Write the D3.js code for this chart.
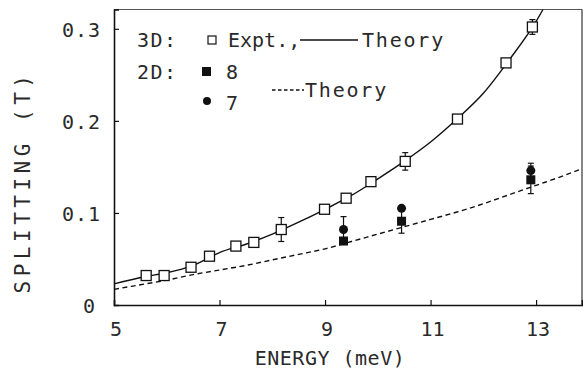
<!DOCTYPE html>
<html>
<head>
<meta charset="utf-8">
<script src="https://cdn.jsdelivr.net/npm/d3@7"></script>
<style>
  body { margin: 0; background: #fff; }
  svg { display: block; }
  text { font-family: "DejaVu Sans Mono", monospace; fill: #2a2a2a; }
</style>
</head>
<body>
<svg id="chart" width="583" height="373"></svg>
<script>
// ===== data =====
const energy3D = [5.61, 5.95, 6.46, 6.81, 7.31, 7.65, 8.17, 8.99, 9.40, 9.87, 10.52, 11.51, 12.43, 12.93];
const split3D  = [0.032, 0.032, 0.041, 0.053, 0.064, 0.068, 0.082, 0.104, 0.116, 0.134, 0.156, 0.202, 0.263, 0.302];
const err3D    = [0, 0, 0, 0, 0, 0, 0.013, 0, 0, 0, 0.0095, 0, 0, 0.008];

const energy2D = [9.35, 10.45, 12.90];
const split8   = [0.0695, 0.091, 0.136];
const err8     = [0, 0.013, 0.015];
const split7   = [0.082, 0.105, 0.146];
const err7     = [0.014, 0, 0.008];

// theory curves (sampled from the drawn lines)
const theory3DE = [5.0, 5.6, 6.0, 6.5, 7.0, 7.5, 8.0, 8.5, 9.0, 9.5, 10.0, 10.5, 11.0, 11.5, 12.0, 12.5, 13.0, 13.13];
const theory3DS = [0.023, 0.031, 0.035, 0.043, 0.057, 0.066, 0.077, 0.090, 0.104, 0.119, 0.137, 0.156, 0.177, 0.202, 0.230, 0.267, 0.308, 0.321];
const theory2DE = [5.0, 5.5, 6.0, 6.5, 7.0, 7.5, 8.0, 8.5, 9.0, 9.5, 10.0, 10.5, 11.0, 11.5, 12.0, 12.5, 13.0, 13.5, 13.87];
const theory2DS = [0.017, 0.022, 0.027, 0.033, 0.038, 0.043, 0.049, 0.055, 0.061, 0.069, 0.077, 0.085, 0.093, 0.101, 0.110, 0.120, 0.130, 0.140, 0.148];

const xTicks = [5, 7, 9, 11, 13];
const yTicks = [0, 0.1, 0.2, 0.3];

// ===== layout =====
const svg = d3.select('#chart');
const plot = {left: 114, right: 582, top: 9.5, bottom: 305};

const x = d3.scaleLinear().domain([5, 13.87]).range([plot.left, plot.right]);
const y = d3.scaleLinear().domain([0, 0.321]).range([plot.bottom, plot.top]);

// frame
svg.append('line')
  .attr('x1', plot.left).attr('x2', plot.right)
  .attr('y1', plot.top).attr('y2', plot.top)
  .attr('stroke', '#555').attr('stroke-width', 1.2);
svg.append('line')
  .attr('x1', plot.right).attr('x2', plot.right)
  .attr('y1', plot.top).attr('y2', plot.bottom)
  .attr('stroke', '#333').attr('stroke-width', 1.2);

// axes, ticks pointing inward
const xAxis = svg.append('g')
  .attr('transform', `translate(0,${plot.bottom})`)
  .call(d3.axisTop(x).tickValues(xTicks.filter(d => d > 5)).tickSize(5).tickFormat(''));
const yAxis = svg.append('g')
  .attr('transform', `translate(${plot.left},0)`)
  .call(d3.axisRight(y).tickValues(yTicks.filter(d => d > 0)).tickSize(5).tickFormat(''));
[xAxis, yAxis].forEach(g => {
  g.select('.domain').attr('stroke', '#111').attr('stroke-width', 1.6);
  g.selectAll('.tick line').attr('stroke', '#111').attr('stroke-width', 1.2);
});

// tick labels
svg.append('g').selectAll('text')
  .data(xTicks)
  .join('text')
  .attr('x', d => x(d) + 2)
  .attr('y', 336)
  .attr('text-anchor', 'middle')
  .attr('font-size', 20)
  .text(d => d);

svg.append('g').selectAll('text')
  .data(yTicks)
  .join('text')
  .attr('x', d => d === 0 ? 96 : 101)
  .attr('y', d => y(d) + 8)
  .attr('text-anchor', 'end')
  .attr('font-size', 20)
  .attr('letter-spacing', 1)
  .text(d => d === 0 ? '0' : d3.format('.1f')(d));

// axis titles
svg.append('text')
  .attr('x', 330).attr('y', 365)
  .attr('text-anchor', 'middle')
  .attr('font-size', 20)
  .attr('letter-spacing', 0.5)
  .text('ENERGY (meV)');

svg.append('text')
  .attr('transform', 'translate(30,182) rotate(-90)')
  .attr('text-anchor', 'middle')
  .attr('font-size', 21)
  .attr('letter-spacing', 4.5)
  .text('SPLITTING (T)');

// ===== theory curves =====
const line = d3.line()
  .x(d => x(d[0]))
  .y(d => y(d[1]))
  .curve(d3.curveMonotoneX);

svg.append('path')
  .datum(d3.zip(theory3DE, theory3DS))
  .attr('d', line)
  .attr('fill', 'none')
  .attr('stroke', '#111')
  .attr('stroke-width', 1.4);

svg.append('path')
  .datum(d3.zip(theory2DE, theory2DS))
  .attr('d', line)
  .attr('fill', 'none')
  .attr('stroke', '#111')
  .attr('stroke-width', 1.4)
  .attr('stroke-dasharray', '5,3.5');

// ===== error bars =====
function errorBars(xs, ys, es) {
  const rows = d3.zip(xs, ys, es).filter(d => d[2] > 0);
  const g = svg.append('g').attr('stroke', '#111').attr('stroke-width', 1.2);
  g.selectAll('line.v').data(rows).join('line')
    .attr('x1', d => x(d[0])).attr('x2', d => x(d[0]))
    .attr('y1', d => y(d[1] - d[2])).attr('y2', d => y(d[1] + d[2]));
  g.selectAll('line.t').data(rows).join('line')
    .attr('x1', d => x(d[0]) - 3).attr('x2', d => x(d[0]) + 3)
    .attr('y1', d => y(d[1] + d[2])).attr('y2', d => y(d[1] + d[2]));
  g.selectAll('line.b').data(rows).join('line')
    .attr('x1', d => x(d[0]) - 3).attr('x2', d => x(d[0]) + 3)
    .attr('y1', d => y(d[1] - d[2])).attr('y2', d => y(d[1] - d[2]));
}
errorBars(energy3D, split3D, err3D);
errorBars(energy2D, split8, err8);
errorBars(energy2D, split7, err7);

// ===== markers =====
const sq = 10;
svg.append('g').selectAll('rect')
  .data(d3.zip(energy3D, split3D))
  .join('rect')
  .attr('x', d => x(d[0]) - sq / 2)
  .attr('y', d => y(d[1]) - sq / 2)
  .attr('width', sq).attr('height', sq)
  .attr('fill', '#fff')
  .attr('stroke', '#111')
  .attr('stroke-width', 1.3);

svg.append('g').selectAll('rect')
  .data(d3.zip(energy2D, split8))
  .join('rect')
  .attr('x', d => x(d[0]) - 4.5)
  .attr('y', d => y(d[1]) - 4.5)
  .attr('width', 9).attr('height', 9)
  .attr('fill', '#111');

svg.append('g').selectAll('circle')
  .data(d3.zip(energy2D, split7))
  .join('circle')
  .attr('cx', d => x(d[0]))
  .attr('cy', d => y(d[1]))
  .attr('r', 4.5)
  .attr('fill', '#111');

// ===== legend =====
const legend = svg.append('g').attr('font-size', 20);
legend.append('text').attr('x', 137).attr('y', 47).attr('letter-spacing', 1.5).text('3D:');
legend.append('rect').attr('x', 208).attr('y', 36).attr('width', 8).attr('height', 8)
  .attr('fill', '#fff').attr('stroke', '#111').attr('stroke-width', 1.2);
legend.append('text').attr('x', 228).attr('y', 47).attr('letter-spacing', 0).text('Expt.,');
legend.append('line').attr('x1', 300).attr('x2', 358).attr('y1', 40).attr('y2', 40)
  .attr('stroke', '#111').attr('stroke-width', 1.3);
legend.append('text').attr('x', 362).attr('y', 47).attr('letter-spacing', 1.8).text('Theory');

legend.append('text').attr('x', 137).attr('y', 79).attr('letter-spacing', 1.5).text('2D:');
legend.append('rect').attr('x', 202).attr('y', 67).attr('width', 9).attr('height', 9).attr('fill', '#111');
legend.append('text').attr('x', 226).attr('y', 79).text('8');

legend.append('line').attr('x1', 272).attr('x2', 304).attr('y1', 90).attr('y2', 90)
  .attr('stroke', '#111').attr('stroke-width', 1.3).attr('stroke-dasharray', '3.5,2.5');
legend.append('text').attr('x', 305).attr('y', 97).attr('letter-spacing', 1.8).text('Theory');

legend.append('circle').attr('cx', 207).attr('cy', 101).attr('r', 4).attr('fill', '#111');
legend.append('text').attr('x', 226).attr('y', 110).text('7');
</script>
</body>
</html>
